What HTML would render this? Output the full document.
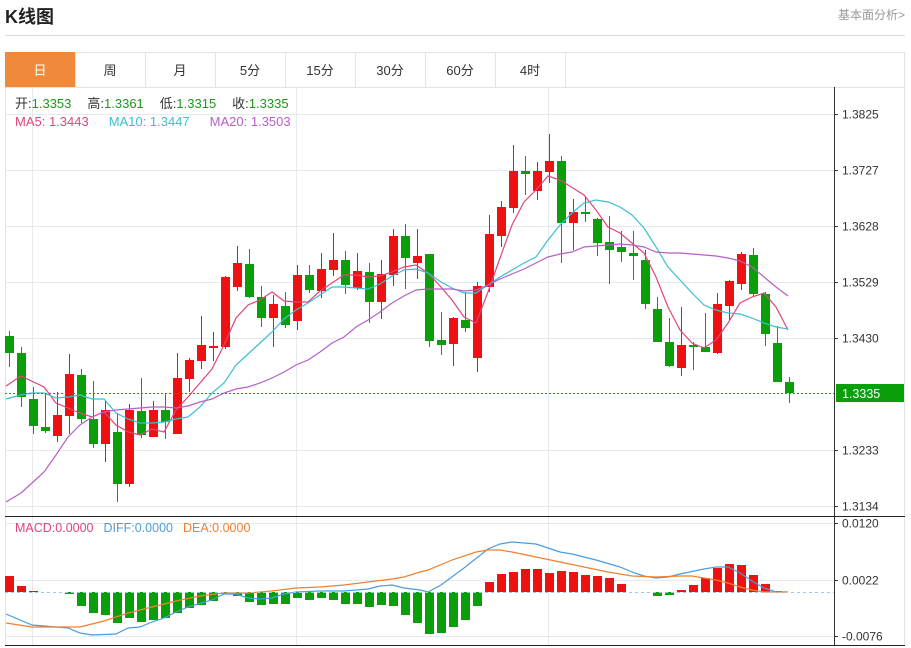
<!DOCTYPE html>
<html><head><meta charset="utf-8"><style>
html,body{margin:0;padding:0;background:#fff;width:911px;height:648px;overflow:hidden;font-family:"Liberation Sans","Noto Sans CJK SC",sans-serif}
svg text{font-family:"Liberation Sans","Noto Sans CJK SC",sans-serif}
</style></head><body>
<svg id="s" width="911" height="648" viewBox="0 0 911 648" xmlns="http://www.w3.org/2000/svg">
<rect width="911" height="648" fill="#fff"/>
<text x="5" y="23" font-size="18" font-weight="bold" fill="#222">K线图</text>
<text x="905" y="19" font-size="12" fill="#999" text-anchor="end">基本面分析&gt;</text>
<line x1="5" y1="35.5" x2="905" y2="35.5" stroke="#ddd"/>
<rect x="5.5" y="52.5" width="899" height="35" fill="#fff" stroke="#e3e3e3"/>
<rect x="5" y="52" width="70" height="35" fill="#f08a3a"/>
<g stroke="#e3e3e3">
<line x1="145.5" y1="52" x2="145.5" y2="87"/><line x1="215.5" y1="52" x2="215.5" y2="87"/>
<line x1="285.5" y1="52" x2="285.5" y2="87"/><line x1="355.5" y1="52" x2="355.5" y2="87"/>
<line x1="425.5" y1="52" x2="425.5" y2="87"/><line x1="495.5" y1="52" x2="495.5" y2="87"/>
<line x1="565.5" y1="52" x2="565.5" y2="87"/><line x1="75.5" y1="52" x2="75.5" y2="87"/>
</g>
<g font-size="13" text-anchor="middle" fill="#333">
<text x="40" y="75" fill="#fff">日</text><text x="110" y="75">周</text><text x="180" y="75">月</text>
<text x="250" y="75">5分</text><text x="320" y="75">15分</text><text x="390" y="75">30分</text>
<text x="460" y="75">60分</text><text x="530" y="75">4时</text>
</g>
<rect x="5.5" y="87.5" width="899" height="558" fill="none" stroke="#e3e3e3"/>
<g id="grid" stroke="#e6e9ee" stroke-width="1"></g>
<g font-size="13">
<text x="15" y="108"><tspan fill="#333">开:</tspan><tspan fill="#1a9a1a">1.3353</tspan><tspan fill="#333" dx="16">高:</tspan><tspan fill="#1a9a1a">1.3361</tspan><tspan fill="#333" dx="16">低:</tspan><tspan fill="#1a9a1a">1.3315</tspan><tspan fill="#333" dx="16">收:</tspan><tspan fill="#1a9a1a">1.3335</tspan></text>
<text x="15" y="126"><tspan fill="#e0457b">MA5: 1.3443</tspan><tspan fill="#3bbfd0" dx="20">MA10: 1.3447</tspan><tspan fill="#b55fc8" dx="20">MA20: 1.3503</tspan></text>
</g>
<g font-size="12.5">
<text x="15" y="532"><tspan fill="#e0457b">MACD:0.0000</tspan><tspan fill="#4a9de0" dx="10">DIFF:0.0000</tspan><tspan fill="#f08030" dx="10">DEA:0.0000</tspan></text>
</g>
<g id="cd"></g>
<g id="ln" fill="none" stroke-width="1.2"></g>
<line x1="5" y1="393.5" x2="834" y2="393.5" stroke="#1a9a1a" stroke-dasharray="2,2"/>
<line x1="5" y1="592.5" x2="834" y2="592.5" stroke="#9cc8e0" stroke-dasharray="3,3"/>
<line x1="834.5" y1="87" x2="834.5" y2="646" stroke="#333"/>
<line x1="5" y1="516.5" x2="905" y2="516.5" stroke="#222"/>
<line x1="5" y1="645.5" x2="905" y2="645.5" stroke="#222"/>
<g id="ax" font-size="12" fill="#333"></g>
<rect x="836" y="384" width="68" height="18" fill="#0a9e0a"/>
<text x="842" y="398" font-size="12.5" fill="#fff">1.3335</text>
</svg>
<script>
var NS="http://www.w3.org/2000/svg";
function el(p,t,a){var e=document.createElementNS(NS,t);for(var k in a)e.setAttribute(k,a[k]);document.getElementById(p).appendChild(e);return e;}
[114,170,226,282,338,450,506,523,580,636].forEach(function(y){el("grid","line",{x1:5,x2:834,y1:y+.5,y2:y+.5});});
[32,296,548].forEach(function(x){el("grid","line",{x1:x+.5,x2:x+.5,y1:88,y2:645});});
var ax=[[114,"1.3825"],[170,"1.3727"],[226,"1.3628"],[282,"1.3529"],[338,"1.3430"],[450,"1.3233"],[506,"1.3134"],[523,"0.0120"],[580,"0.0022"],[636,"-0.0076"]];
ax.forEach(function(a){el("ax","line",{x1:834,x2:838,y1:a[0]+.5,y2:a[0]+.5,stroke:"#333"});var t=el("ax","text",{x:842,y:a[0]+4.5});t.textContent=a[1];});
var C=[[336,353,331,367,'g'],[353,397,347,407,'g'],[399,426,387,434,'g'],[427,431,394,433,'g'],[415,436,392,442,'r'],[374,416,354,434,'r'],[375,419,369,423,'g'],[419,444,381,448,'g'],[410,444,401,462,'r'],[432,484,413,502,'g'],[410,484,404,487,'r'],[411,435,378,438,'g'],[410,437,401,437,'r'],[410,422,393,439,'g'],[378,434,353,434,'r'],[360,379,358,392,'r'],[345,361,316,369,'r'],[346,348,332,361,'r'],[277,347,276,349,'r'],[263,287,246,291,'r'],[264,297,249,298,'g'],[297,318,286,327,'g'],[304,318,295,347,'r'],[306,325,292,328,'g'],[275,321,265,330,'r'],[275,290,265,293,'g'],[269,291,253,298,'r'],[260,270,233,276,'r'],[260,285,251,294,'g'],[271,288,253,290,'r'],[272,302,263,323,'g'],[274,302,260,319,'r'],[236,275,229,286,'r'],[236,258,224,289,'g'],[256,263,229,279,'r'],
[254,341,254,347,'g'],[340,345,312,355,'g'],[318,344,317,366,'r'],[320,328,292,332,'g'],[286,358,282,372,'r'],[234,287,215,292,'r'],[207,236,201,247,'r'],[171,208,145,213,'r'],[171,174,156,195,'g'],[171,191,162,200,'r'],[161,172,134,183,'r'],[161,223,156,263,'g'],[212,223,199,250,'r'],[212,214,197,222,'g'],[219,243,218,256,'g'],[242,250,216,284,'g'],[247,252,231,262,'g'],[253,256,231,280,'g'],[260,304,250,309,'g'],[309,342,297,342,'g'],[342,366,318,367,'g'],[345,368,307,376,'r'],[345,347,342,370,'g'],[347,352,313,352,'g'],[304,353,293,354,'r'],[281,306,280,320,'r'],[254,284,252,290,'r'],[255,294,248,297,'g'],[294,334,292,346,'g'],[343,382,326,382,'g'],[382,393,377,403,'g']];
C.forEach(function(c,i){var x=9+12*i,col=c[4]=='r'?'#ee1111':'#0a9e0a';
el("cd","line",{x1:x+.5,x2:x+.5,y1:c[2],y2:c[3],stroke:col});
el("cd","rect",{x:x-4,y:c[0],width:9,height:Math.max(1.5,c[1]-c[0]),fill:col});});
var M=[576,586,591,592,592,594,606,613,615,623,618,622,620,618,613,608,605,601,594,596,602,605,604,604,598,600,598,600,604,604,607,605,606,615,623,634,633,627,620,606,582,574,572,569,569,573,571,572,575,576,578,584,592,592,596,595,590,585,578,568,564,565,575,584,591,592];
M.forEach(function(v,i){var x=9+12*i,z=592;if(Math.abs(v-z)<0.5)return;
el("cd","rect",{x:x-4,y:Math.min(v,z),width:9,height:Math.abs(v-z),fill:v<z?'#ee1111':'#0a9e0a'});});
function pl(pts,col){el("ln","polyline",{points:pts,stroke:col});}
pl("6,386 21,376 44,387 56,403 68,408 80,413 92,417 104,412 116,425 128,432 140,435 152,429 164,432 176,410 188,397 200,383 212,369 224,345 236,318 248,305 260,300 272,292 284,301 296,302 308,302 320,291 332,283 344,275 356,275 368,277 380,276 392,272 404,267 416,265 428,273 441,287 452,300 464,317 476,323 488,292 500,258 512,225 524,202 536,190 548,176 560,180 584,195 596,210 608,227 620,233 632,243 644,253 656,277 668,307 680,330 692,343 704,348 716,340 728,323 740,303 752,297 764,293 776,307 788,330","#e0457b");
pl("6,399 21,395 32,393 44,393 56,398 68,397 80,395 92,399 104,399 116,413 128,419 140,423 152,423 164,422 176,419 188,417 200,407 212,393 224,383 236,365 248,354 260,343 272,332 284,319 296,310 308,303 320,295 332,287 344,287 356,288 368,289 380,284 392,276 404,270 416,269 428,273 441,282 452,288 464,293 476,293 488,285 500,277 512,270 524,263 536,257 548,240 560,225 572,213 584,203 596,200 608,202 620,207 632,215 644,228 656,247 668,267 680,280 692,293 704,305 716,310 728,313 740,314 752,318 764,323 776,327 788,329","#3bbfd0");
pl("6,502 21,493 32,483 44,472 56,455 68,437 80,425 92,417 104,412 116,410 128,409 140,408 152,407 164,407 176,408 188,406 200,402 212,399 224,393 236,389 248,387 260,383 272,378 284,372 296,365 308,360 320,352 332,343 344,337 356,327 368,320 380,312 392,303 404,296 416,290 428,289 441,289 452,289 464,291 476,290 488,285 500,279 512,274 524,269 536,263 548,257 560,254 572,252 584,247 596,246 608,245 620,244 632,245 644,247 656,252 668,253 680,253 692,254 704,255 716,256 728,258 740,261 752,267 764,277 776,287 788,296","#b55fc8");
pl("6,614 32,625 68,628 80,633 92,635 116,634 128,628 140,627 152,622 164,618 176,612 188,607 212,600 224,594 236,594 248,598 260,599 272,598 284,594 296,592 320,591 344,591 368,589 380,586 392,585 404,588 420,590 428,592 441,585 464,568 488,549 500,544 512,542 524,543 536,544 548,548 560,552 572,554 596,560 620,567 632,572 644,576 656,578 668,577 680,574 704,569 716,567 728,567 740,573 752,581 764,588 776,592 788,592","#4a9de0");
pl("6,623 32,627 80,627 104,621 128,613 152,607 176,601 200,596 224,593 248,593 272,591 296,588 320,587 344,585 368,582 392,579 404,577 420,572 428,570 452,560 476,552 488,550 500,550 512,552 536,557 560,562 584,567 608,572 632,576 656,577 680,576 692,576 704,578 716,580 728,583 740,587 752,590 764,592 788,592","#f08030");
</script>
</body></html>
